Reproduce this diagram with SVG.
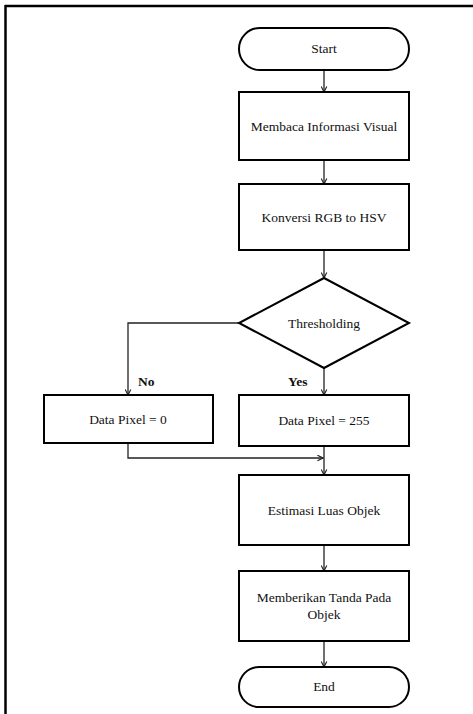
<svg xmlns="http://www.w3.org/2000/svg" width="473" height="714" viewBox="0 0 473 714">
<style>
.shape{fill:#fff;stroke:#000;stroke-width:2}
.line{fill:none;stroke:#222;stroke-width:1.3}
.t{font-family:"Liberation Serif","Times New Roman",serif;font-size:13.5px;fill:#111;text-anchor:middle}
.b{font-weight:bold;text-anchor:start}
</style>
<defs>
<marker id="arr" viewBox="0 0 10 10" refX="9" refY="5" markerWidth="7" markerHeight="7" orient="auto" markerUnits="userSpaceOnUse">
<path d="M1,1 L9,5 L1,9" fill="none" stroke="#222" stroke-width="1.6"/>
</marker>
</defs>
<rect x="0" y="0" width="473" height="714" fill="#fff"/>
<g id="frame">
<line x1="5" y1="6" x2="473" y2="6" stroke="#000" stroke-width="2.5"/>
<line x1="5.5" y1="5" x2="5.5" y2="714" stroke="#000" stroke-width="2.5"/>
</g>
<g id="connectors">
<line class="line" x1="324" y1="70" x2="324" y2="92" marker-end="url(#arr)"/>
<line class="line" x1="324" y1="160" x2="324" y2="184" marker-end="url(#arr)"/>
<line class="line" x1="324" y1="250" x2="324" y2="278" marker-end="url(#arr)"/>
<polyline class="line" points="239,323 128,323 128,395" marker-end="url(#arr)"/>
<line class="line" x1="324" y1="368" x2="324" y2="395" marker-end="url(#arr)"/>
<polyline class="line" points="128,443 128,458 323,458" marker-end="url(#arr)"/>
<line class="line" x1="324" y1="446" x2="324" y2="475" marker-end="url(#arr)"/>
<line class="line" x1="324" y1="545" x2="324" y2="571" marker-end="url(#arr)"/>
<line class="line" x1="324" y1="641" x2="324" y2="667" marker-end="url(#arr)"/>
<text class="t b" x="138" y="386">No</text>
<text class="t b" x="288" y="386">Yes</text>
</g>
<g id="start">
<rect class="shape" x="239" y="28" width="170" height="42" rx="21"/>
<text class="t" x="324" y="53">Start</text>
</g>
<g id="baca">
<rect class="shape" x="239" y="92" width="170" height="68"/>
<text class="t" x="324" y="131">Membaca Informasi Visual</text>
</g>
<g id="konversi">
<rect class="shape" x="239" y="184" width="170" height="66"/>
<text class="t" x="324" y="222">Konversi RGB to HSV</text>
</g>
<g id="threshold">
<polygon class="shape" points="324,278 409,323 324,368 239,323"/>
<text class="t" x="324" y="328">Thresholding</text>
</g>
<g id="pixel0">
<rect class="shape" x="44" y="395" width="169" height="48"/>
<text class="t" x="128" y="424">Data Pixel = 0</text>
</g>
<g id="pixel255">
<rect class="shape" x="239" y="395" width="170" height="51"/>
<text class="t" x="324" y="425">Data Pixel = 255</text>
</g>
<g id="estimasi">
<rect class="shape" x="239" y="475" width="170" height="70"/>
<text class="t" x="324" y="515">Estimasi Luas Objek</text>
</g>
<g id="tanda">
<rect class="shape" x="239" y="571" width="170" height="70"/>
<text class="t" x="324" y="602">Memberikan Tanda Pada</text>
<text class="t" x="324" y="619">Objek</text>
</g>
<g id="end">
<rect class="shape" x="239" y="667" width="170" height="40" rx="20"/>
<text class="t" x="324" y="691">End</text>
</g>
</svg>
